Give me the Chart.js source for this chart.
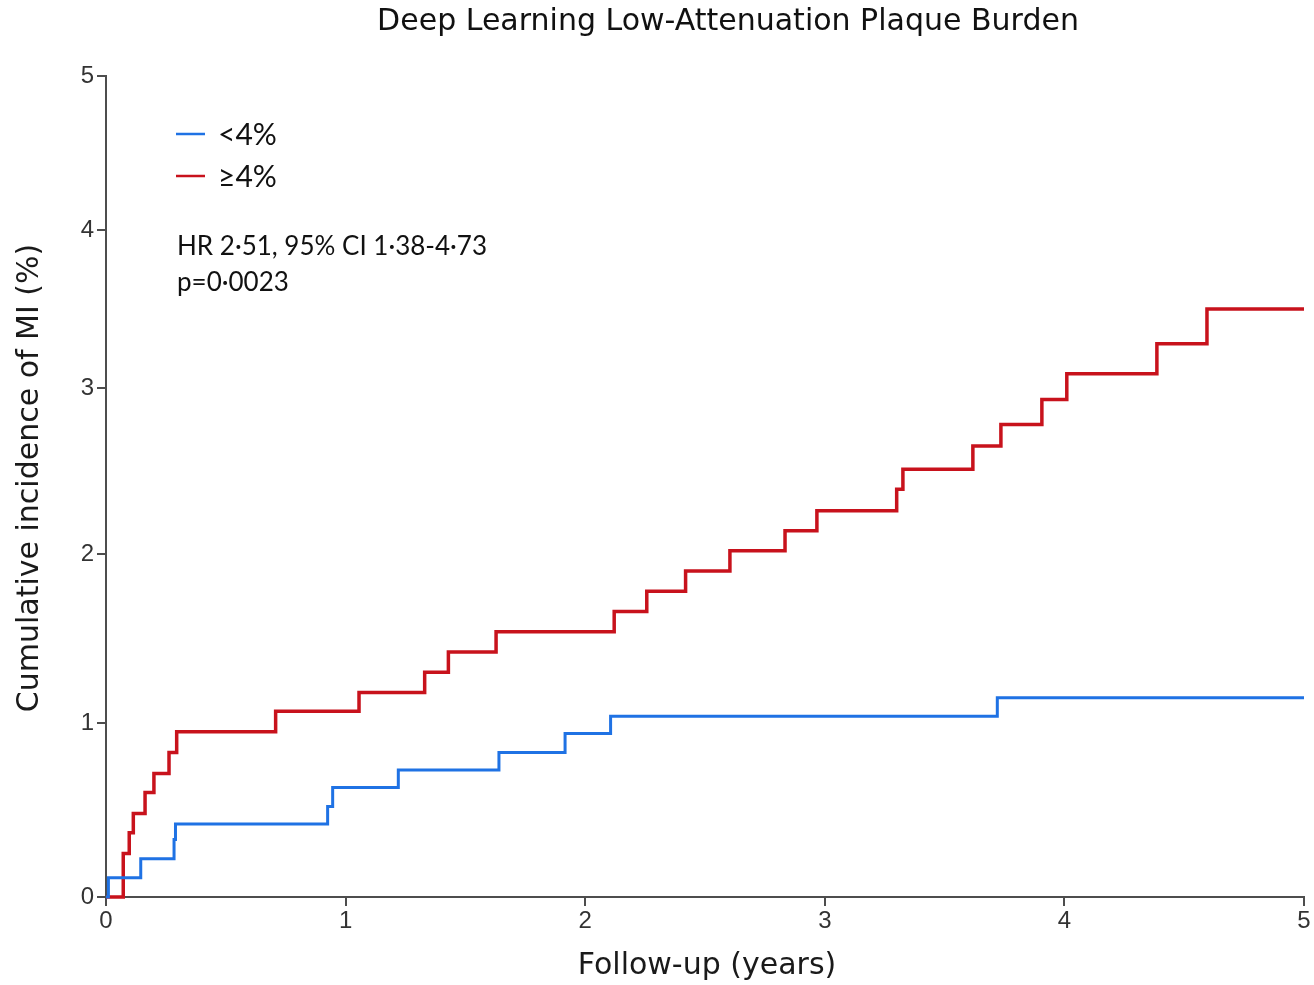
<!DOCTYPE html>
<html>
<head>
<meta charset="utf-8">
<script src="https://cdn.jsdelivr.net/npm/chart.js@4/dist/chart.umd.min.js"></script>
<style>
  html, body { margin: 0; padding: 0; background: #ffffff; }
  #wrap { width: 1314px; height: 985px; position: relative; }
</style>
</head>
<body>
<div id="wrap"><canvas id="c" width="1314" height="985"></canvas></div>
<script>
// ---------------- DATA ----------------
const chartTitle = 'Deep Learning Low-Attenuation Plaque Burden';
const xAxisTitle = 'Follow-up (years)';
const yAxisTitle = 'Cumulative incidence of MI (%)';
const seriesNames = ['<4%', '\u22654%'];
const annotationLines = ['HR 2\u00b751, 95% CI 1\u00b738-4\u00b773', 'p=0\u00b70023'];

const xTickValues = [0, 1, 2, 3, 4, 5];
const yTickValues = [0, 1, 2, 3, 4, 5];

// <4% group (time in years, cumulative incidence %)
const lowTimes  = [0, 0.01, 0.145, 0.284, 0.29, 0.925, 0.946, 1.22, 1.64, 1.916, 2.106, 3.72, 5];
const lowValues = [0, 0.11, 0.22, 0.33, 0.42, 0.52, 0.63, 0.73, 0.83, 0.94, 1.04, 1.15, 1.15];

// >=4% group
const highTimes  = [0, 0.072, 0.097, 0.114, 0.163, 0.20, 0.263, 0.295, 0.708, 1.056, 1.33, 1.429, 1.628,
                    2.121, 2.257, 2.419, 2.604, 2.834, 2.967, 3.30, 3.326, 3.618, 3.735, 3.906, 4.01,
                    4.386, 4.595, 5];
const highValues = [0, 0.25, 0.37, 0.48, 0.60, 0.71, 0.83, 0.95, 1.07, 1.18, 1.30, 1.42, 1.54,
                    1.66, 1.78, 1.90, 2.02, 2.14, 2.26, 2.39, 2.51, 2.65, 2.78, 2.93, 3.09,
                    3.28, 3.50, 3.50];

// ---------------- AXIS CALIBRATION ----------------
// The reference's y axis is slightly non-uniform: fraction of axis height at each tick value.
const yWarpFractions = [0, 0.2119, 0.4178, 0.6200, 0.8124, 1];

function warp(v) {
  const t = yTickValues, f = yWarpFractions, n = t.length;
  if (v <= t[0]) return f[0] + (v - t[0]) * (f[1] - f[0]) / (t[1] - t[0]);
  for (let i = 1; i < n; i++) {
    if (v <= t[i]) return f[i - 1] + (v - t[i - 1]) * (f[i] - f[i - 1]) / (t[i] - t[i - 1]);
  }
  return f[n - 1] + (v - t[n - 1]) * (f[n - 1] - f[n - 2]) / (t[n - 1] - t[n - 2]);
}
function unwarp(d) {
  const t = yTickValues, f = yWarpFractions, n = t.length;
  for (let i = 1; i < n; i++) {
    if (d <= f[i] || i === n - 1) return t[i - 1] + (d - f[i - 1]) * (t[i] - t[i - 1]) / (f[i] - f[i - 1]);
  }
}

class WarpedLinearScale extends Chart.LinearScale {
  getPixelForValue(value) {
    if (value === null || value === undefined || isNaN(value)) return NaN;
    const min = yTickValues[0], max = yTickValues[yTickValues.length - 1];
    const d = (warp(value) - warp(min)) / (warp(max) - warp(min));
    return this.getPixelForDecimal(d);
  }
  getValueForPixel(pixel) {
    return unwarp(this.getDecimalForPixel(pixel));
  }
}
WarpedLinearScale.id = 'warpedLinear';
WarpedLinearScale.defaults = Chart.LinearScale.defaults;
Chart.register(WarpedLinearScale);

// ---------------- STYLE ----------------
const BLUE = '#1f72e4';
const RED = '#c8121c';
const AXIS = '#4d4d4d';

function toPoints(xs, ys) { return xs.map((x, i) => ({ x: x, y: ys[i] })); }

const textPlugin = {
  id: 'textPlugin',
  afterDraw(chart) {
    const ctx = chart.ctx;
    const a = chart.chartArea;
    ctx.save();
    // Title
    ctx.fillStyle = '#111';
    ctx.font = '30px "DejaVu Sans"';
    ctx.textAlign = 'center';
    ctx.textBaseline = 'middle';
    ctx.fillText(chartTitle, 728, 22);
    // X axis title
    ctx.fillStyle = '#1a1a1a';
    ctx.fillText(xAxisTitle, 707, 966);
    // Y axis title
    ctx.save();
    ctx.translate(30, 478);
    ctx.rotate(-Math.PI / 2);
    ctx.fillText(yAxisTitle, 0, 0);
    ctx.restore();

    // Legend
    const lx = a.left + 70;
    const legendY = [134, 176];
    const colors = [BLUE, RED];
    ctx.font = '30px Lato';
    ctx.textAlign = 'left';
    for (let i = 0; i < seriesNames.length; i++) {
      ctx.strokeStyle = colors[i];
      ctx.lineWidth = 2.5;
      ctx.beginPath();
      ctx.moveTo(lx, legendY[i]);
      ctx.lineTo(lx + 29, legendY[i]);
      ctx.stroke();
      ctx.fillStyle = '#111';
      ctx.fillText(seriesNames[i], lx + 42, legendY[i] + 1);
    }
    // Annotation
    ctx.font = '26px Lato';
    ctx.fillStyle = '#111';
    ctx.fillText(annotationLines[0], a.left + 71, 247);
    ctx.fillText(annotationLines[1], a.left + 71, 283);
    ctx.restore();
  }
};

new Chart(document.getElementById('c'), {
  type: 'line',
  data: {
    datasets: [
      {
        label: seriesNames[0],
        data: toPoints(lowTimes, lowValues),
        borderColor: BLUE,
        borderWidth: 3,
        stepped: 'before',
        pointRadius: 0,
        fill: false,
        clip: false
      },
      {
        label: seriesNames[1],
        data: toPoints(highTimes, highValues),
        borderColor: RED,
        borderWidth: 3.5,
        stepped: 'before',
        pointRadius: 0,
        fill: false,
        clip: false
      }
    ]
  },
  plugins: [textPlugin],
  options: {
    responsive: false,
    animation: false,
    devicePixelRatio: 1,
    layout: { padding: { top: 76, right: 10, bottom: 0, left: 0 } },
    plugins: {
      legend: { display: false },
      title: { display: false },
      tooltip: { enabled: false }
    },
    scales: {
      x: {
        type: 'linear',
        min: xTickValues[0],
        max: xTickValues[xTickValues.length - 1],
        afterBuildTicks(scale) { scale.ticks = xTickValues.map(v => ({ value: v })); },
        afterFit(scale) { scale.height = 88; },
        ticks: {
          color: '#333',
          font: { family: '"Liberation Sans", Arial', size: 24 },
          padding: 1,
          maxRotation: 0
        },
        grid: { drawOnChartArea: false, drawTicks: true, tickLength: 9, color: AXIS, lineWidth: 2 },
        border: { display: true, color: AXIS, width: 2 }
      },
      y: {
        type: 'warpedLinear',
        min: yTickValues[0],
        max: yTickValues[yTickValues.length - 1],
        afterBuildTicks(scale) { scale.ticks = yTickValues.map(v => ({ value: v })); },
        afterFit(scale) { scale.width = 106; },
        ticks: {
          color: '#333',
          font: { family: '"Liberation Sans", Arial', size: 24 },
          padding: 3
        },
        grid: { drawOnChartArea: false, drawTicks: true, tickLength: 9, color: AXIS, lineWidth: 2 },
        border: { display: true, color: AXIS, width: 2 }
      }
    }
  }
});
</script>
</body>
</html>
